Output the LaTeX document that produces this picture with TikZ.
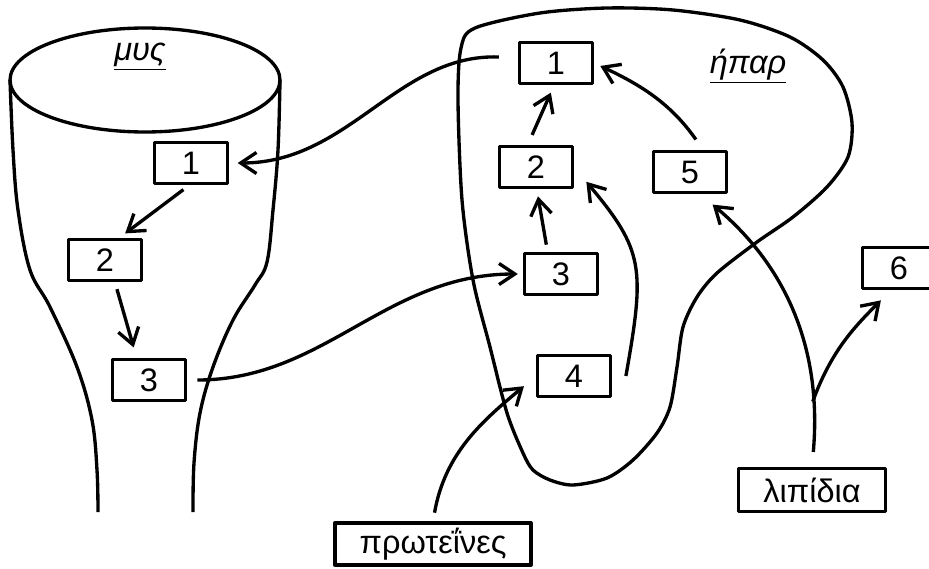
\documentclass[tikz,border=0pt]{standalone}
\usepackage{fontspec}
\setmainfont{Liberation Sans}
\usetikzlibrary{arrows.meta,calc}

\begin{document}
\begin{tikzpicture}[x=0.02cm, y=-0.02cm, line width=1.9pt, line join=round,
        font=\fontsize{18.5}{22}\selectfont,
        box/.style={draw, rectangle, inner sep=0pt, minimum width=1.45cm, minimum height=0.83cm},
        arr/.style={-{Straight Barb[length=9pt, width=12pt]}}]
            \useasboundingbox (0,0) rectangle (929,568);

            \draw (145,80) ellipse [x radius=2.7cm, y radius=1.04cm];
            \draw plot [smooth, tension=0.6] coordinates {(10,80) (13,150) (18,210) (30,270) (50,307) (77,367) (92,420) (97,470) (98,512)};
            \draw plot [smooth, tension=0.6] coordinates {(280,80) (278,150) (273,210) (267,262) (255,285) (233,320) (213,367) (200,413) (194,463) (193,512)};
            \node (mus) at (140,57) {\textit{\underline{μυς}}};

            \draw plot [smooth cycle, tension=0.5] coordinates {(458,100) (461,48) (475,28) (540,13) (607,8) (673,10) (740,20) (790,37) (823,60) (843,87) (852,123) (848,157) (827,187) (793,217) (757,242) (717,273) (697,297) (683,327) (677,367) (670,407) (657,433) (633,460) (607,478) (573,485) (550,480) (533,470) (523,453) (507,413) (490,347) (473,280) (462,200)};
            \node (hpar) at (748,66) {\textit{\underline{ήπαρ}}};

            \node [box] (M1) at (191,163) {1};
            \node [box] (M2) at (105,260) {2};
            \node [box] (M3) at (149,380) {3};

            \node [box] (L1) at (556,63) {1};
            \node [box] (L2) at (536,167) {2};
            \node [box] (L3) at (561,274) {3};
            \node [box] (L4) at (574,376) {4};
            \node [box] (L5) at (690,172) {5};
            \node [box] (B6) at (899,268) {6};

            \node [box, minimum width=2.94cm, minimum height=0.86cm] (lip) at (812,490) {λιπίδια};
            \node [box, minimum width=3.92cm, minimum height=0.84cm] (prot) at (433,544) {πρωτεΐνες};

            \draw [arr, shorten <=11pt, shorten >=5pt] (L1.172) to [out=178, in=0] (M1.east);
            \draw [arr, shorten <=4pt, shorten >=4pt] (M1.-95) -- (M2.57);
            \draw [arr, shorten <=4pt, shorten >=6pt] (M2.-66) -- (M3.119);
            \draw [arr, shorten <=6pt, shorten >=3pt] (M3.east) to [out=0, in=180] (L3.west);

            \draw [arr, shorten <=4pt, shorten >=4pt] (L3.121) -- (L2.-88);
            \draw [arr, shorten <=6pt, shorten >=4.5pt] (L2.110) -- (L1.-95);
            \draw [arr, shorten >=11pt] ($(L4.east)+(14,0)$) to [out=80, in=-50, looseness=1.3] (L2.east);
            \draw [arr, shorten <=7pt, shorten >=4pt] (L5.60) to [out=125, in=-25] (L1.east);

            \draw [arr, shorten <=8.5pt, shorten >=9pt] (lip.north) to [out=85, in=-40] coordinate [pos=0.2] (fork) (L5.-65);
            \draw [arr, shorten >=8pt] (fork) to [out=70, in=-135] (B6.-110);
            \draw [arr, shorten <=5pt, shorten >=9pt] (prot.north) to [out=80, in=-140] (L4.west);
        \end{tikzpicture}
\end{document}
